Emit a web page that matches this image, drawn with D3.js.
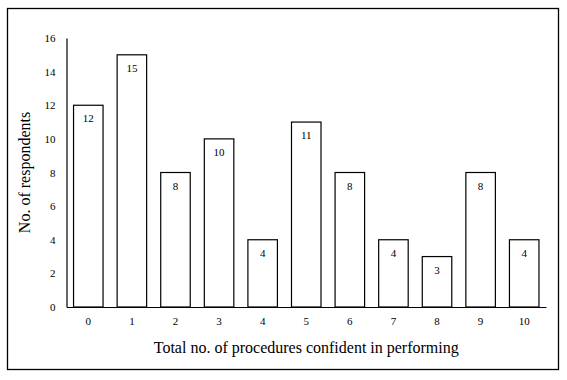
<!DOCTYPE html>
<html><head><meta charset="utf-8">
<script src="https://cdn.jsdelivr.net/npm/d3@7"></script>
<style>body{margin:0;background:#fff}svg{display:block}</style>
</head><body>
<script>
const categories = ["0","1","2","3","4","5","6","7","8","9","10"];
const values = [12,15,8,10,4,11,8,4,3,8,4];
const yTicks = [0,2,4,6,8,10,12,14,16];
const xTitle = "Total no. of procedures confident in performing";
const yTitle = "No. of respondents";

const W = 567, H = 380;
const FONT = "'Liberation Serif', 'Times New Roman', serif";
const svg = d3.select("body").append("svg").attr("width", W).attr("height", H)
  .style("font-family", FONT);

svg.append("rect").attr("x", 7.5).attr("y", 8.5).attr("width", 551).attr("height", 361)
  .attr("fill", "#fff").attr("stroke", "#000").attr("stroke-width", 1.3);

const x0 = 66.5, x1 = 546, yTop = 38, yBot = 307;
const x = d3.scaleBand().domain(categories).range([x0, x1]).paddingInner(0.323).paddingOuter(0.1615);
const y = d3.scaleLinear().domain([0, 16]).range([yBot, yTop]);

const g = svg.append("g");
g.selectAll("rect.bar").data(values).enter().append("rect")
  .attr("class", "bar")
  .attr("x", (d, i) => x(categories[i]))
  .attr("y", d => y(d))
  .attr("width", x.bandwidth())
  .attr("height", d => y(0) - y(d))
  .attr("fill", "#fff").attr("stroke", "#000").attr("stroke-width", 1.2);

g.selectAll("text.val").data(values).enter().append("text")
  .attr("class", "val")
  .attr("x", (d, i) => x(categories[i]) + x.bandwidth() / 2)
  .attr("y", d => y(d) + 17)
  .attr("text-anchor", "middle").attr("font-size", 11).text(d => d);

const yAxis = d3.axisLeft(y).tickValues(yTicks).tickSize(0).tickPadding(11);
const ya = svg.append("g").attr("transform", `translate(${x0},0)`).call(yAxis);
ya.attr("font-family", FONT);
ya.select(".domain").attr("stroke", "#000").attr("stroke-width", 1.2);
ya.selectAll("text").attr("font-size", 11).attr("fill", "#000");

const xAxis = d3.axisBottom(x).tickSize(0).tickPadding(10);
const xa = svg.append("g").attr("transform", `translate(0,${yBot})`).call(xAxis);
xa.attr("font-family", FONT);
xa.select(".domain").attr("stroke", "#000").attr("stroke-width", 1.2);
xa.selectAll("text").attr("font-size", 11).attr("fill", "#000");

svg.append("text").attr("x", (x0 + x1) / 2).attr("y", 353)
  .attr("text-anchor", "middle").attr("font-size", 16).text(xTitle);

svg.append("text").attr("transform", `translate(29.5,${(yTop + yBot) / 2}) rotate(-90)`)
  .attr("text-anchor", "middle").attr("font-size", 16).text(yTitle);
</script>
</body></html>
